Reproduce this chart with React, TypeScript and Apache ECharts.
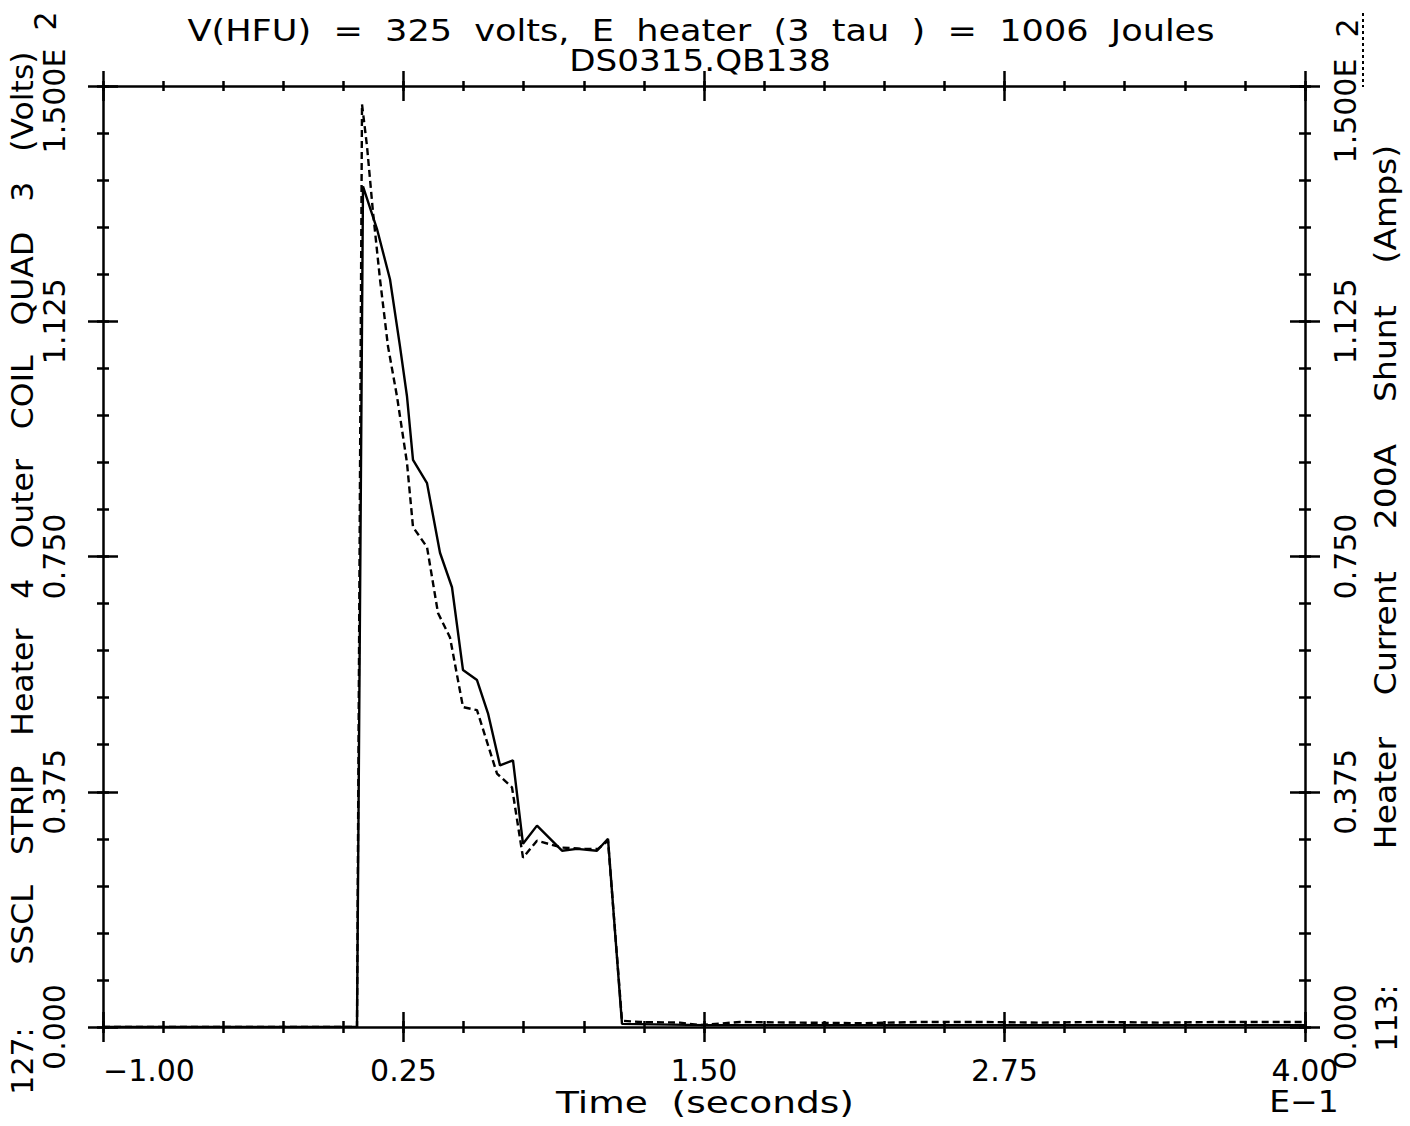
import React, { useEffect, useRef } from "react";
import * as echarts from "echarts";

// Solid trace: 127: SSCL STRIP Heater 4 Outer COIL QUAD 3 (Volts, x1E2) — left axis
const TIME_VOLTS = [-1.0, 0.0566, 0.0815, 0.1398, 0.1938, 0.2354, 0.2646, 0.2895, 0.3478, 0.4018, 0.4517, 0.4975, 0.5557, 0.6015, 0.6514, 0.7055, 0.7471, 0.8053, 0.9093, 0.9717, 1.0549, 1.1007, 1.1589, 1.5, 2.0, 2.5, 3.0, 3.5, 4.0];
const VOLTS = [0.0, 0.0, 1.34, 1.272, 1.192, 1.085, 1.005, 0.904, 0.867, 0.756, 0.701, 0.569, 0.553, 0.5, 0.417, 0.425, 0.292, 0.321, 0.281, 0.284, 0.281, 0.3, 0.005, 0.003, 0.003, 0.003, 0.003, 0.003, 0.003];

// Dashed trace: 113: Heater Current 200A Shunt (Amps, x1E2) — right axis
const TIME_AMPS = [-1.0, 0.0566, 0.0774, 0.0982, 0.1231, 0.1522, 0.1855, 0.223, 0.2646, 0.2895, 0.3478, 0.3935, 0.4434, 0.4975, 0.5557, 0.6389, 0.7013, 0.7471, 0.8053, 0.9093, 1.005, 1.0591, 1.1007, 1.1589, 1.2337, 1.4002, 1.4834, 1.6498, 1.8993, 2.1489, 2.3985, 2.6481, 2.8977, 3.1473, 3.3969, 3.6464, 3.8128, 4.0];
const AMPS = [0.0, 0.0, 1.471, 1.404, 1.299, 1.192, 1.085, 1.005, 0.899, 0.797, 0.765, 0.66, 0.621, 0.51, 0.505, 0.404, 0.382, 0.27, 0.297, 0.286, 0.284, 0.284, 0.297, 0.01, 0.008, 0.007, 0.003, 0.008, 0.007, 0.006, 0.008, 0.008, 0.007, 0.008, 0.007, 0.008, 0.008, 0.008];

const X_MAJOR = [-1.0, 0.25, 1.5, 2.75, 4.0];
const X_MINOR = [-1.0, -0.75, -0.5, -0.25, 0.0, 0.25, 0.5, 0.75, 1.0, 1.25, 1.5, 1.75, 2.0, 2.25, 2.5, 2.75, 3.0, 3.25, 3.5, 3.75, 4.0];
const Y_MAJOR = [0.0, 0.375, 0.75, 1.125, 1.5];
const Y_MINOR = [0.0, 0.075, 0.15, 0.225, 0.3, 0.375, 0.45, 0.525, 0.6, 0.675, 0.75, 0.825, 0.9, 0.975, 1.05, 1.125, 1.2, 1.275, 1.35, 1.425, 1.5];

const TITLE = "V(HFU)  =  325  volts,  E  heater  (3  tau  )  =  1006  Joules";
const SUBTITLE = "DS0315.QB138";
const LEFT_ID = "127:";
const LEFT_NAME = "SSCL   STRIP   Heater   4   Outer   COIL   QUAD   3   (Volts)";
const RIGHT_ID = "113:";
const RIGHT_NAME = "Heater    Current    200A    Shunt    (Amps)";
const X_NAME = "Time  (seconds)";

const FONT = "DejaVu Sans";
const FS = 30;
const INK = "#000";

function fmtX(v: number) {
  const s = Math.abs(v).toFixed(2);
  return v < 0 ? "\u2212" + s : s;
}
function fmtY(v: number) {
  if (Math.abs(v - 1.5) < 1e-9) return "{e|1.500E}";
  return v.toFixed(3);
}

const richLeft = {
  e: { fontFamily: FONT, fontSize: FS, color: INK, padding: [0, 30, 0, 0] },
};
const richRight = {
  e: { fontFamily: FONT, fontSize: FS, color: INK, padding: [0, 50, 0, 0] },
};

function tickAxis(position: string, values: number[], half: number, min: number, max: number) {
  return {
    type: "value",
    position,
    min,
    max,
    offset: half,
    axisLine: { show: false, onZero: false },
    splitLine: { show: false },
    axisLabel: { show: false },
    axisTick: {
      show: true,
      inside: true,
      length: half * 2,
      customValues: values,
      lineStyle: { color: INK, width: 2.5 },
    },
  };
}

function txt(text: string, x: number, y: number, rotation: number, scaleX: number) {
  return {
    type: "text",
    x,
    y,
    rotation,
    scaleX,
    style: { text, font: `${FS}px "${FONT}"`, fill: INK, align: "center", verticalAlign: "middle" },
  };
}

export default function App() {
  const ref = useRef<HTMLDivElement>(null);
  useEffect(() => {
    const chart = echarts.init(ref.current!, null, { renderer: "svg" });
    const grid = { left: 103, right: 105, top: 86, bottom: 99, containLabel: false };
    const mainX = (position: string, showLabel: boolean) => ({
      type: "value",
      position,
      min: -1,
      max: 4,
      axisLine: { show: true, onZero: false, lineStyle: { color: INK, width: 2.5 } },
      axisTick: { show: false },
      splitLine: { show: false },
      axisLabel: {
        show: showLabel,
        customValues: X_MAJOR,
        formatter: fmtX,
        fontFamily: FONT,
        fontSize: FS,
        color: INK,
        margin: 28,
        alignMinLabel: "left",
      },
    });
    const mainY = (position: string, margin: number, rich: any) => ({
      type: "value",
      position,
      min: 0,
      max: 1.5,
      interval: 0.375,
      axisLine: { show: true, onZero: false, lineStyle: { color: INK, width: 2.5 } },
      axisTick: { show: false },
      splitLine: { show: false },
      axisLabel: {
        show: true,
        rotate: 90,
        formatter: fmtY,
        fontFamily: FONT,
        fontSize: FS,
        color: INK,
        margin,
        rich,
      },
    });
    const option = {
      animation: false,
      backgroundColor: "#fff",
      grid,
      xAxis: [
        mainX("bottom", true),
        tickAxis("bottom", X_MAJOR, 15, -1, 4),
        tickAxis("bottom", X_MINOR, 6, -1, 4),
        mainX("top", false),
        tickAxis("top", X_MAJOR, 15, -1, 4),
        tickAxis("top", X_MINOR, 5, -1, 4),
      ],
      yAxis: [
        mainY("left", 34, richLeft),
        tickAxis("left", Y_MAJOR, 15, 0, 1.5),
        tickAxis("left", Y_MINOR, 6, 0, 1.5),
        mainY("right", 25, richRight),
        tickAxis("right", Y_MAJOR, 15, 0, 1.5),
        tickAxis("right", Y_MINOR, 6, 0, 1.5),
      ],
      series: [
        {
          name: "Volts",
          type: "line",
          xAxisIndex: 0,
          yAxisIndex: 0,
          data: TIME_VOLTS.map((t, i) => [t, VOLTS[i]]),
          showSymbol: false,
          lineStyle: { color: INK, width: 2.4, type: "solid" },
          z: 3,
        },
        {
          name: "Amps",
          type: "line",
          xAxisIndex: 0,
          yAxisIndex: 3,
          data: TIME_AMPS.map((t, i) => [t, AMPS[i]]),
          showSymbol: false,
          lineStyle: { color: INK, width: 2.4, type: [7, 4] },
          z: 2,
        },
      ],
      graphic: [
        txt(TITLE, 701, 31, 0, 1.17),
        txt(SUBTITLE, 700, 61, 0, 1.14),
        txt(LEFT_ID, 22, 1061, Math.PI / 2, 1.0),
        txt(LEFT_NAME, 22, 508, Math.PI / 2, 1.05),
        txt("2", 45, 21, Math.PI / 2, 1),
        txt(RIGHT_ID, 1386, 1018, Math.PI / 2, 1.0),
        txt(RIGHT_NAME, 1386, 497, Math.PI / 2, 1.1),
        txt("2", 1347, 28, Math.PI / 2, 1),
        { type: "line", shape: { x1: 1363, y1: 13, x2: 1363, y2: 87 }, style: { stroke: INK, lineWidth: 2, lineDash: [3, 3] } },
        txt(X_NAME, 705, 1102, 0, 1.25),
        txt("E\u22121", 1304, 1102, 0, 1.1),
      ],
    };
    chart.setOption(option as any);
    return () => chart.dispose();
  }, []);
  return (
    <div
      ref={ref}
      style={{ position: "fixed", left: 0, top: 0, width: 1410, height: 1126, background: "#fff" }}
    />
  );
}
